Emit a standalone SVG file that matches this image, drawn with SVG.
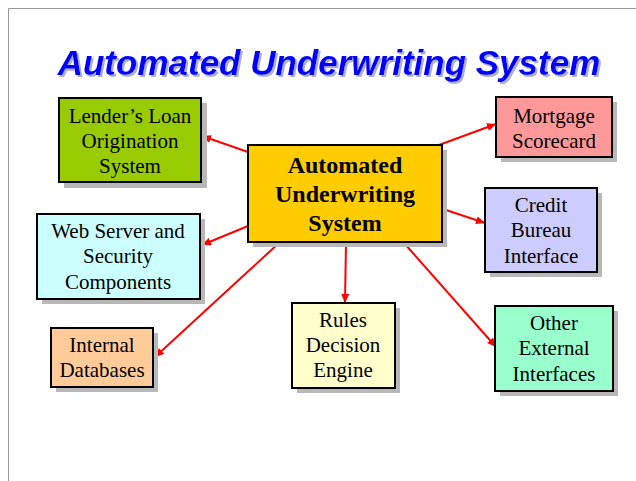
<svg xmlns="http://www.w3.org/2000/svg" width="636" height="481" viewBox="0 0 636 481">
<style>
.box{stroke:#000;stroke-width:2}
.sh{fill:#b8b8b8}
.t{font-family:"Liberation Serif","Times New Roman",serif;font-size:21px;fill:#000;text-anchor:middle}
.tb{font-family:"Liberation Serif","Times New Roman",serif;font-size:24px;font-weight:bold;fill:#000;text-anchor:middle}
.c{stroke:#ff0000;stroke-width:2;fill:none;marker-end:url(#ah)}
</style>
<defs>
<marker id="ah" markerUnits="userSpaceOnUse" markerWidth="10" markerHeight="8" refX="9" refY="4" orient="auto">
<path d="M0,0 L9,4 L0,8 Z" fill="#ff0000"/>
</marker>
<filter id="tsh" x="-5%" y="-20%" width="110%" height="150%">
<feOffset in="SourceAlpha" dx="2" dy="2" result="o"/>
<feFlood flood-color="#b0b0c0"/>
<feComposite in2="o" operator="in" result="s"/>
<feMerge><feMergeNode in="s"/><feMergeNode in="SourceGraphic"/></feMerge>
</filter>
</defs>
<rect width="636" height="481" fill="#fff"/>
<path d="M8.5,481 V8.5 H636" stroke="#999" stroke-width="1" fill="none"/>
<g id="title">
<text x="329" y="75" font-family="Liberation Sans,Arial,sans-serif" font-size="35" font-weight="bold" font-style="italic" fill="#0000ff" text-anchor="middle" filter="url(#tsh)">Automated Underwriting System</text>
</g>
<g id="connectors">
<line class="c" x1="248" y1="152" x2="202" y2="136"/>
<line class="c" x1="439" y1="145" x2="496" y2="124"/>
<line class="c" x1="443" y1="209" x2="485" y2="223"/>
<line class="c" x1="248" y1="226" x2="202" y2="245"/>
<line class="c" x1="279" y1="243" x2="155" y2="357"/>
<line class="c" x1="346" y1="243" x2="345" y2="303"/>
<line class="c" x1="404" y1="243" x2="496" y2="347"/>
</g>
<g id="lender">
<rect class="sh" x="64" y="103" width="143" height="85"/>
<rect class="box" x="59" y="98" width="142" height="84" fill="#99cc00"/>
<text class="t" x="130" y="123">Lender’s Loan</text>
<text class="t" x="130" y="148">Origination</text>
<text class="t" x="130" y="173">System</text>
</g>
<g id="center">
<rect class="sh" x="253" y="150" width="194" height="97"/>
<rect class="box" x="248" y="145" width="194" height="97" fill="#ffcc00"/>
<text class="tb" x="345" y="173">Automated</text>
<text class="tb" x="345" y="202">Underwriting</text>
<text class="tb" x="345" y="231">System</text>
</g>
<g id="mortgage">
<rect class="sh" x="501" y="102" width="116" height="60"/>
<rect class="box" x="496" y="97" width="116" height="60" fill="#ff9999"/>
<text class="t" x="554" y="123">Mortgage</text>
<text class="t" x="554" y="148">Scorecard</text>
</g>
<g id="credit">
<rect class="sh" x="490" y="193" width="112" height="84"/>
<rect class="box" x="485" y="188" width="112" height="84" fill="#ccccff"/>
<text class="t" x="541" y="212">Credit</text>
<text class="t" x="541" y="237">Bureau</text>
<text class="t" x="541" y="263">Interface</text>
</g>
<g id="web">
<rect class="sh" x="42" y="219" width="163" height="85"/>
<rect class="box" x="37" y="214" width="163" height="85" fill="#ccffff"/>
<text class="t" x="118" y="238">Web Server and</text>
<text class="t" x="118" y="263">Security</text>
<text class="t" x="118" y="289">Components</text>
</g>
<g id="internal">
<rect class="sh" x="56" y="333" width="102" height="59"/>
<rect class="box" x="51" y="328" width="102" height="59" fill="#ffcc99"/>
<text class="t" x="102" y="352">Internal</text>
<text class="t" x="102" y="377">Databases</text>
</g>
<g id="rules">
<rect class="sh" x="297" y="308" width="103" height="85"/>
<rect class="box" x="292" y="303" width="103" height="85" fill="#ffffcc"/>
<text class="t" x="343" y="327">Rules</text>
<text class="t" x="343" y="352">Decision</text>
<text class="t" x="343" y="377">Engine</text>
</g>
<g id="other">
<rect class="sh" x="500" y="311" width="118" height="85"/>
<rect class="box" x="495" y="306" width="118" height="85" fill="#99ffcc"/>
<text class="t" x="554" y="330">Other</text>
<text class="t" x="554" y="355">External</text>
<text class="t" x="554" y="381">Interfaces</text>
</g>
</svg>
